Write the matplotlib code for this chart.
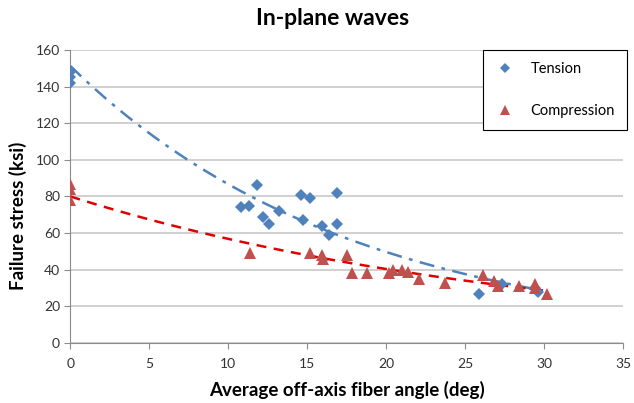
import numpy as np
import matplotlib
matplotlib.use("Agg")
import matplotlib.pyplot as plt

plt.rcParams['font.family'] = ['Lato', 'DejaVu Sans']

# off-axis angle (deg) and failure stress (ksi)
tension_angle = [0, 0, 0, 10.8, 11.3, 11.8, 12.2, 12.6, 13.2, 14.6, 14.7, 15.2,
                 15.9, 16.4, 16.9, 16.9, 25.9, 27.3, 29.4, 29.6]
tension_stress = [148, 145, 142, 74, 75, 86, 69, 65, 72, 81, 67, 79,
                  64, 59, 82, 65, 27, 32, 30, 28]

compression_angle = [0, 0, 0, 11.4, 15.2, 15.9, 16.0, 17.5, 17.8, 18.8, 20.2,
                     20.4, 21.0, 21.4, 22.1, 23.7, 26.1, 26.8, 27.1, 28.4,
                     29.4, 29.4, 30.2]
compression_stress = [87, 84, 78, 49, 49, 48, 46, 48, 38, 38, 38,
                      40, 40, 39, 35, 33, 37, 34, 31, 31,
                      32, 30, 27]

blue = '#4F81BD'
red = '#C0504D'


def exp_trend(x, y):
    # exponential trendline y = a*exp(b*x), fitted in log space
    b, lna = np.polyfit(x, np.log(y), 1)
    xs = np.linspace(0, max(x), 100)
    return xs, np.exp(lna) * np.exp(b * xs)


fig = plt.figure(figsize=(6.34, 4.03), dpi=100)
ax = fig.add_axes([0.111, 0.149, 0.872, 0.727])

ax.set_xlim(0, 35)
ax.set_ylim(0, 160)
ax.set_xticks(np.arange(0, 36, 5))
ax.set_yticks(np.arange(0, 161, 20))
ax.yaxis.grid(True, color='#c4c4c4', linewidth=1.1)
ax.set_axisbelow(True)

for side in ['top', 'right']:
    ax.spines[side].set_visible(False)
for side in ['left', 'bottom']:
    ax.spines[side].set_color('#8c8c8c')
ax.tick_params(axis='both', direction='out', length=4, color='#8c8c8c',
               labelsize=10, labelcolor='#333333')
ax.tick_params(axis='x', pad=7)

xs, ys = exp_trend(tension_angle, tension_stress)
ax.plot(xs, ys, color=blue, linewidth=1.8, linestyle=(0, (6, 3, 1.5, 3)), zorder=3)
xs, ys = exp_trend(compression_angle, compression_stress)
ax.plot(xs, ys, color='#E00000', linewidth=1.8, linestyle=(0, (4, 3)), zorder=3)

ax.plot(tension_angle, tension_stress, 'D', color=blue, markersize=6,
        markeredgewidth=0, label='Tension', zorder=4)
ax.plot(compression_angle, compression_stress, '^', color=red, markersize=8,
        markeredgewidth=0, label='Compression', zorder=4)

fig.text(0.524, 0.955, 'In-plane waves', fontsize=16.5, fontweight='bold',
         ha='center', va='center')
ax.set_xlabel('Average off-axis fiber angle (deg)', fontsize=13.5, fontweight='bold')
ax.set_ylabel('Failure stress (ksi)', fontsize=13.5, fontweight='bold')
ax.xaxis.set_label_coords(0.5, -0.13)
ax.yaxis.set_label_coords(-0.079, 0.433)

leg = ax.legend(loc='upper right', bbox_to_anchor=(1.007, 1.0), fontsize=10.5,
                frameon=True, fancybox=False, edgecolor='black',
                borderpad=0.85, labelspacing=1.9, handlelength=1.3,
                handletextpad=1.1, markerscale=0.85, framealpha=1,
                borderaxespad=0)
leg.get_frame().set_linewidth(0.8)

fig.savefig('out.png', dpi=100)
